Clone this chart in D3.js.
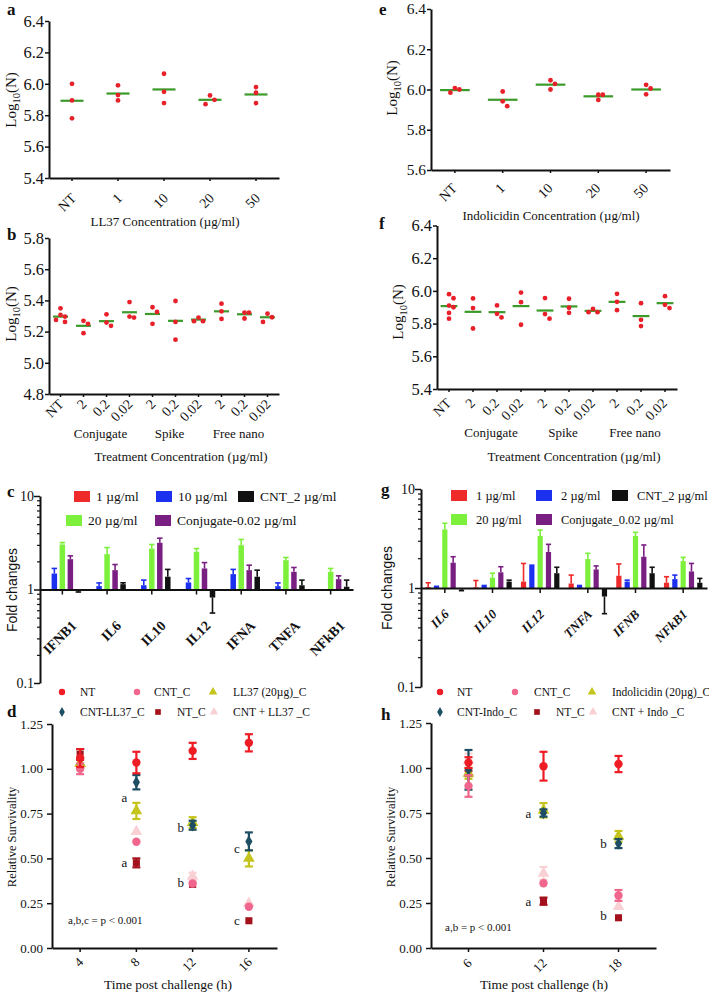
<!DOCTYPE html>
<html><head><meta charset="utf-8">
<script src="https://cdn.jsdelivr.net/npm/d3@7"></script>
<style>body{margin:0;background:#fff}svg{display:block}</style>
</head><body><script>
// ---------------- DATA ----------------
const concCats = ["NT","1","10","20","50"];
const ll37Points = [[6.00,5.894,5.78],[5.99,5.928,5.894],[6.064,5.949,5.877],[5.926,5.898,5.87],[5.979,5.943,5.877]];
const ll37Means  = [5.892,5.938,5.964,5.898,5.932];
const indoPoints = [[6.007,6.0,5.984],[5.99,5.941,5.917],[6.046,6.028,6.0],[5.974,5.974,5.948],[6.023,6.005,5.976]];
const indoMeans  = [5.997,5.949,6.024,5.966,6.0];

const treatCats   = ["NT","2","0.2","0.02","2","0.2","0.02","2","0.2","0.02"];
const treatGroups = ["Conjugate","Spike","Free nano"];
const ll37TreatPoints = [[5.349,5.307,5.296,5.275,5.262],[5.269,5.25,5.19],[5.311,5.258,5.237],[5.389,5.296,5.29],
  [5.356,5.326,5.25],[5.396,5.262,5.148],[5.29,5.267,5.267],[5.379,5.33,5.281],[5.322,5.322,5.284],[5.315,5.292,5.262]];
const ll37TreatMeans = [5.296,5.237,5.267,5.324,5.313,5.269,5.277,5.33,5.311,5.292];
const indoTreatPoints = [[5.98,5.955,5.91,5.90,5.865,5.83],[5.954,5.895,5.77],[5.911,5.86,5.838],[5.99,5.931,5.793],
  [5.956,5.858,5.83],[5.952,5.897,5.866],[5.89,5.87,5.87],[5.982,5.933,5.882],[5.925,5.823,5.785],[5.968,5.915,5.895]];
const indoTreatMeans = [5.907,5.872,5.87,5.907,5.88,5.905,5.878,5.933,5.846,5.925];

const genesC = ["IFNB1","IL6","IL10","IL12","IFNA","TNFA","NFkB1"];
const seriesC = ["1 µg/ml","10 µg/ml","20 µg/ml","Conjugate-0.02 µg/ml","CNT_2 µg/ml"];
const foldC = [
  [1,1,1,1,1,1,1],
  [1.48,1.086,1.11,1.19,1.46,1.086,1.0],
  [3.03,2.39,2.74,2.53,2.98,2.06,1.545],
  [2.11,1.61,3.16,1.68,1.61,1.545,1.29],
  [0.97,1.14,1.37,0.82,1.37,1.11,1.07]];
const errC = [
  [0,0,0,0,0,0,0],
  [0.20,0.09,0.15,0.12,0.18,0.09,0],
  [0.15,0.42,0.29,0.21,0.45,0.14,0.135],
  [0.18,0.24,0.38,0.26,0.21,0.175,0.11],
  [0.03,0.04,0.27,0.26,0.24,0.15,0.19]];

const genesG = ["IL6","IL10","IL12","TNFA","IFNB","NFkB1"];
const seriesG = ["1 µg/ml","2 µg/ml","20 µg/ml","Conjugate_0.02 µg/ml","CNT_2 µg/ml"];
const foldG = [
  [1.02,1.015,1.16,1.11,1.33,1.13],
  [1.03,1.05,1.68,1.05,1.16,1.23],
  [3.91,1.27,3.35,1.96,3.35,1.87],
  [1.80,1.44,2.31,1.54,2.07,1.47],
  [0.97,1.16,1.41,0.82,1.41,1.13]];
const errG = [
  [0.11,0.175,0.61,0.24,0.42,0.17],
  [0.01,0.01,0.02,0.01,0.04,0.12],
  [0.6,0.14,0.5,0.28,0.3,0.17],
  [0.27,0.2,0.45,0.13,0.65,0.3],
  [0.03,0.04,0.21,0.27,0.21,0.12]];
const barColors = ["#ee2a2a","#1c30f0","#7df03c","#7a1f82","#111111"];

const timesD = ["4","8","12","16"];
const survNamesD = ["NT","CNT_C","LL37 (20µg)_C","CNT-LL37_C","NT_C","CNT + LL37 _C"];
const survD = [
  [1.06,1.035,1.10,1.145],
  [1.00,0.593,0.36,0.23],
  [1.03,0.765,0.70,0.50],
  [1.06,0.925,0.685,0.595],
  [1.08,0.475,0.355,0.152],
  [1.03,0.65,0.40,0.25]];
const survErrD = [
  [0.05,0.06,0.045,0.048],
  [0.03,0,0,0],
  [0.03,0.045,0.03,0.045],
  [0.05,0.04,0.025,0.05],
  [0.03,0.025,0,0],
  [0.04,0,0.02,0]];
const annotD = [["8",0.84,"a"],["8",0.475,"a"],["12",0.675,"b"],["12",0.368,"b"],["16",0.558,"c"],["16",0.151,"c"]];

const timesH = ["6","12","18"];
const survNamesH = ["NT","CNT_C","Indolicidin (20µg)_C","CNT-Indo_C","NT_C","CNT + Indo _C"];
const survH = [
  [1.03,1.01,1.022],
  [0.90,0.36,0.292],
  [0.97,0.765,0.62],
  [0.99,0.75,0.58],
  [0.97,0.26,0.168],
  [1.04,0.415,0.23]];
const survErrH = [
  [0.03,0.08,0.045],
  [0.06,0,0.03],
  [0.03,0.04,0.03],
  [0.11,0.02,0.025],
  [0.015,0.02,0],
  [0.04,0.035,0]];
const annotH = [["12",0.746,"a"],["12",0.256,"a"],["18",0.583,"b"],["18",0.183,"b"]];

const survColors = ["#ee1c25","#f0668c","#c4c41c","#1d4e63","#a3121c","#f9d0d4"];
const survShapes = [d3.symbolCircle,d3.symbolCircle,d3.symbolTriangle,d3.symbolDiamond,d3.symbolSquare,d3.symbolTriangle];

// ---------------- DRAWING ----------------
const SERIF = "'Liberation Serif','Times New Roman',serif";
const SANS = "'Liberation Sans',Arial,sans-serif";
const svg = d3.select("body").append("svg").attr("width",709).attr("height",993)
  .style("font-family",SERIF);

function label(x,y,str,o={}){
  const t = svg.append("text").attr("x",x).attr("y",y).text(str)
    .attr("font-size",o.size||13).attr("text-anchor",o.anchor||"start")
    .attr("font-family",o.family||SERIF).attr("fill","#111");
  if(o.weight) t.attr("font-weight",o.weight);
  if(o.style) t.attr("font-style",o.style);
  if(o.rotate) t.attr("transform",`rotate(${o.rotate},${x},${y})`);
  if(o.baseline) t.attr("dominant-baseline",o.baseline);
  return t;
}
function logTitle(x,y,size){
  const t = svg.append("text").attr("transform",`translate(${x},${y}) rotate(-90)`)
    .attr("text-anchor","middle").attr("font-size",size).attr("fill","#111");
  t.append("tspan").text("Log");
  t.append("tspan").text("10").attr("font-size",size*0.7).attr("dy",size*0.25);
  t.append("tspan").text("(N)").attr("dy",-size*0.25);
}
function styleAxis(a,size,o={}){
  a.select(".domain").attr("stroke","#111").attr("stroke-width",2);
  a.selectAll(".tick line").attr("stroke","#111").attr("stroke-width",1.5);
  a.selectAll("text").attr("font-family",o.family||SERIF).attr("font-size",size).attr("fill","#111");
  if(o.weight) a.selectAll("text").attr("font-weight",o.weight);
  if(o.style) a.selectAll("text").attr("font-style",o.style);
}
function rotateLabels(a,dx,dy){
  a.selectAll(".tick text").attr("y",0).attr("x",0).attr("dy",null).attr("text-anchor","end")
    .attr("transform",`translate(${dx},${dy}) rotate(-45)`);
}

function scatterPanel(o){
  const x = d3.scaleBand().domain(d3.range(o.cats.length)).range([o.x0,o.x1]);
  const y = d3.scaleLinear().domain(o.domain).range([o.yBot,o.yTop]);
  const g = svg.append("g");
  const ticks = d3.range(Math.round((o.domain[1]-o.domain[0])/0.2)+1).map(i=>+(o.domain[0]+i*0.2).toFixed(1));
  const ya = g.append("g").attr("transform",`translate(${o.x0},0)`)
    .call(d3.axisLeft(y).tickValues(ticks).tickFormat(d3.format(".1f")).tickSize(4).tickSizeOuter(0).tickPadding(1));
  styleAxis(ya,o.tickSize||16.5);
  const xa = g.append("g").attr("transform",`translate(0,${o.yBot})`)
    .call(d3.axisBottom(x).tickFormat(i=>o.cats[i]).tickSize(3).tickSizeOuter(0));
  styleAxis(xa,14);
  rotateLabels(xa,o.lab[0],o.lab[1]);
  const lw = x.bandwidth()*o.lineFrac;
  o.points.forEach((pts,i)=>{
    const cx = x(i)+x.bandwidth()/2;
    const placed = [];
    pts.forEach(v=>{
      const py = y(v);
      const near = placed.filter(p=>Math.abs(p.y-py)<5);
      let off = 0;
      if(near.length){ off = near.some(p=>p.off>0) ? -4.5 : 4.5; if(near.length>1) off=-4.5; }
      placed.push({y:py,off});
    });
    g.append("line").attr("x1",cx-lw/2).attr("x2",cx+lw/2).attr("y1",y(o.means[i])).attr("y2",y(o.means[i]))
      .attr("stroke","#3a9a2a").attr("stroke-width",2.2);
    placed.forEach(p=>g.append("circle").attr("cx",cx+p.off).attr("cy",p.y).attr("r",2.4).attr("fill","#e8202a"));
  });
  if(o.groups){
    o.groups.forEach((gn,k)=>{
      const c = (x(1+k*3)+x(3+k*3)+x.bandwidth())/2 - 6;
      label(c,o.groupY,gn,{anchor:"middle",size:13});
    });
  }
  label(o.letter[0],o.letter[1],o.name,{weight:"bold",size:17});
  logTitle(o.yt[0],o.yt[1],15);
  label(o.xt[0],o.xt[1],o.xtitle,{anchor:"middle",size:13});
}

scatterPanel({cats:concCats,points:ll37Points,means:ll37Means,x0:49,x1:279,yTop:21,yBot:178,domain:[5.4,6.4],
  lineFrac:0.5,lab:[5,21],letter:[7,15],name:"a",yt:[16,100],xt:[165,226],xtitle:"LL37 Concentration (µg/ml)"});
scatterPanel({cats:concCats,points:indoPoints,means:indoMeans,x0:431,x1:670,yTop:9,yBot:170,domain:[5.6,6.4],tickSize:15.5,
  lineFrac:0.62,lab:[3,19],letter:[379,15],name:"e",yt:[397,88],xt:[551,220],xtitle:"Indolicidin Concentration (µg/ml)"});
scatterPanel({cats:treatCats,points:ll37TreatPoints,means:ll37TreatMeans,x0:49,x1:279,yTop:238,yBot:394,domain:[4.8,5.8],
  lineFrac:0.65,lab:[4,11],letter:[7,240],name:"b",yt:[16,314],xt:[181,461],xtitle:"Treatment Concentration (µg/ml)",
  groups:treatGroups,groupY:438});
scatterPanel({cats:treatCats,points:indoTreatPoints,means:indoTreatMeans,x0:437,x1:677,yTop:225.5,yBot:389,domain:[5.4,6.4],
  lineFrac:0.7,lab:[3,15],letter:[379,229],name:"f",yt:[403,312],xt:[574,461],xtitle:"Treatment Concentration (µg/ml)",
  groups:treatGroups,groupY:437});

function barPanel(o){
  const x = d3.scaleBand().domain(o.genes).range([o.x0,o.x1]);
  const y = d3.scaleLog().domain([0.1,10]).range([o.yBot,o.yTop]);
  const sub = d3.scaleBand().domain(o.series).range([-o.half,o.half]);
  const g = svg.append("g");
  const ya = g.append("g").attr("transform",`translate(${o.x0},0)`)
    .call(d3.axisLeft(y).tickValues([0.1,1,10]).tickFormat(d=>d<1?"0.1":String(d)).tickSize(6).tickSizeOuter(0).tickPadding(0));
  styleAxis(ya,14);
  const minor = [0.2,0.3,0.4,0.5,0.6,0.7,0.8,0.9,2,3,4,5,6,7,8,9];
  const ym = g.append("g").attr("transform",`translate(${o.x0},0)`)
    .call(d3.axisLeft(y).tickValues(minor).tickFormat("").tickSize(3));
  ym.select(".domain").remove();
  ym.selectAll(".tick line").attr("stroke","#111").attr("stroke-width",1.2);
  const bw = o.bw;
  o.values.forEach((vals,si)=>{
    vals.forEach((v,i)=>{
      const cx = x(o.genes[i])+x.bandwidth()/2+sub(o.series[si])+sub.bandwidth()/2;
      const col = barColors[si], e = o.errs[si][i];
      g.append("rect").attr("x",cx-bw/2).attr("width",bw)
        .attr("y",y(Math.max(v,1))).attr("height",Math.abs(y(v)-y(1))).attr("fill",col);
      if(e>0){
        const ve = v>=1 ? v+e : v-e;
        g.append("line").attr("x1",cx).attr("x2",cx).attr("y1",y(v)).attr("y2",y(ve)).attr("stroke",col).attr("stroke-width",1.6);
        g.append("line").attr("x1",cx-bw/2).attr("x2",cx+bw/2).attr("y1",y(ve)).attr("y2",y(ve)).attr("stroke",col).attr("stroke-width",1.6);
      }
    });
  });
  const xa = g.append("g").attr("transform",`translate(0,${y(1)})`)
    .call(d3.axisBottom(x).tickSize(5).tickSizeOuter(0));
  styleAxis(xa,o.geneSize,{weight:"bold",style:o.italic?"italic":null});
  rotateLabels(xa,o.lab[0],o.lab[1]);
  // legend (positions listed per series index)
  o.legendPos.forEach((p,si)=>{
    svg.append("rect").attr("x",p[0]).attr("y",p[1]-10).attr("width",16).attr("height",11).attr("fill",barColors[si]);
    label(p[0]+o.legTextOff,p[1],o.series[si],{size:o.legSize});
  });
  label(o.letter[0],o.letter[1],o.name,{weight:"bold",size:17});
  label(o.yt[0],o.yt[1],"Fold changes",{family:SANS,size:14,anchor:"middle",rotate:-90});
}

barPanel({genes:genesC,series:seriesC,values:foldC,errs:errC,x0:40,x1:353,yTop:496,yBot:683,half:20,bw:5.5,
  geneSize:14,italic:false,lab:[15,37],legSize:13.5,
  legendPos:[[74,501],[156,501],[66,525],[155,525],[238,501]],legTextOff:22,
  letter:[7,497],name:"c",yt:[17,590]});
barPanel({genes:genesG,series:seriesG,values:foldG,errs:errG,x0:421,x1:707,yTop:489,yBot:687,half:20.8,bw:5.2,
  geneSize:13,italic:true,lab:[5,27],legSize:12.5,
  legendPos:[[451,500],[536,500],[451,524],[536,524],[612,500]],legTextOff:25,
  letter:[381,495],name:"g",yt:[392,588]});

function survPanel(o){
  const x = d3.scaleBand().domain(o.times).range([o.x0,o.x1]);
  const y = d3.scaleLinear().domain([0,1.25]).range([o.yBot,o.yTop]);
  const g = svg.append("g");
  const ya = g.append("g").attr("transform",`translate(${o.x0},0)`)
    .call(d3.axisLeft(y).tickValues([0,0.25,0.5,0.75,1,1.25]).tickFormat(d3.format(".2f")).tickSize(5).tickSizeOuter(0).tickPadding(4));
  styleAxis(ya,13);
  const xa = g.append("g").attr("transform",`translate(0,${o.yBot})`)
    .call(d3.axisBottom(x).tickSize(4).tickSizeOuter(0));
  styleAxis(xa,13);
  rotateLabels(xa,o.lab[0],o.lab[1]);
  const order = [4,5,2,3,1,0];
  const sizes = [55,55,60,45,50,60];
  order.forEach(si=>{
    const col = survColors[si];
    o.values[si].forEach((v,i)=>{
      const cx = x(o.times[i])+x.bandwidth()/2, e = o.errs[si][i];
      if(e>0){
        g.append("line").attr("x1",cx).attr("x2",cx).attr("y1",y(v-e)).attr("y2",y(v+e)).attr("stroke",col).attr("stroke-width",2.2);
        [v-e,v+e].forEach(b=>g.append("line").attr("x1",cx-4).attr("x2",cx+4).attr("y1",y(b)).attr("y2",y(b)).attr("stroke",col).attr("stroke-width",2.2));
      }
      g.append("path").attr("d",d3.symbol(survShapes[si],sizes[si])()).attr("transform",`translate(${cx},${y(v)})`).attr("fill",col);
    });
  });
  o.annots.forEach(([t,v,s])=>{
    label(x(t)+x.bandwidth()/2+o.annOff,y(v),s,{anchor:"middle",size:13,baseline:"central"});
  });
  label(o.note[0],o.note[1],o.noteText,{size:11});
  o.legend.forEach((p,si)=>{
    svg.append("path").attr("d",d3.symbol(survShapes[si],si===3?28:32)()).attr("transform",`translate(${p[0]},${p[1]})`).attr("fill",survColors[si]);
    label(p[2],p[1]+4,o.names[si],{size:11.5});
  });
  label(o.letter[0],o.letter[1],o.name,{weight:"bold",size:17});
  label(o.yt[0],o.yt[1],"Relative Survivality",{size:12.5,anchor:"middle",rotate:-90});
  label(o.xt[0],o.xt[1],"Time post challenge (h)",{size:13.5,anchor:"middle"});
}

survPanel({times:timesD,values:survD,errs:survErrD,names:survNamesD,x0:52,x1:277,yTop:724,yBot:948,lab:[4,15],
  annots:annotD,annOff:-12,note:[68,924],noteText:"a,b,c = p < 0.001",
  legend:[[62,692,80],[137,692,154],[213,692,233],[62,712,80],[158,712,177],[214,712,233]],
  letter:[7,717],name:"d",yt:[16,837],xt:[168,989]});
survPanel({times:timesH,values:survH,errs:survErrH,names:survNamesH,x0:431,x1:656,yTop:723,yBot:948,lab:[4,16],
  annots:annotH,annOff:-15,note:[445,931],noteText:"a,b = p < 0.001",
  legend:[[440,692,457],[515,692,534],[592,692,612],[440,712,457],[537,712,556],[593,712,612]],
  letter:[381,720],name:"h",yt:[395,837],xt:[544,989]});
</script></body></html>
